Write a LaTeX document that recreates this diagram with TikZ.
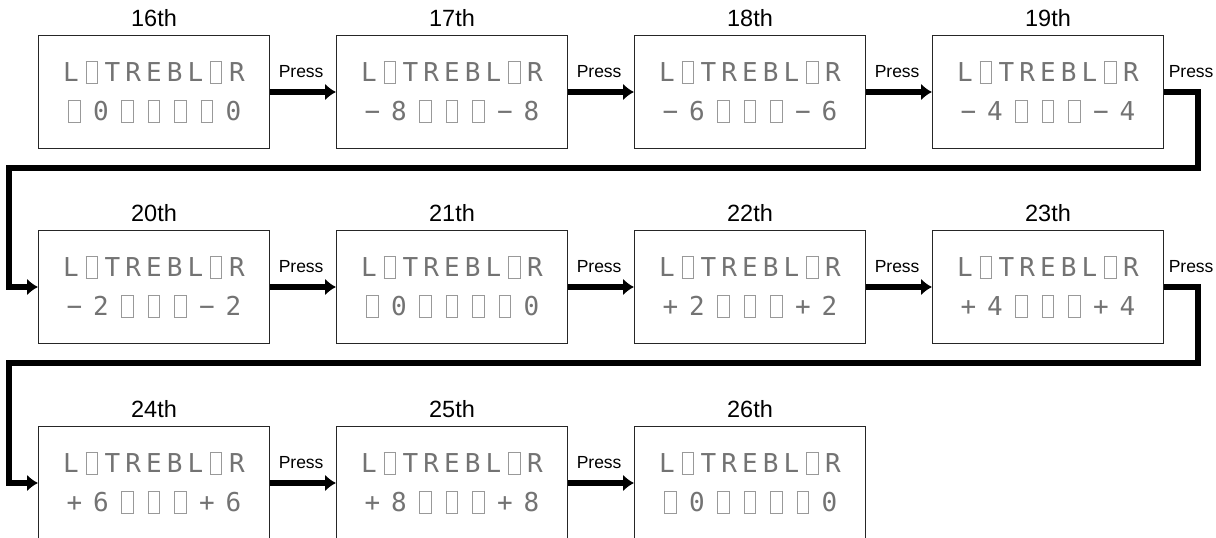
\documentclass[tikz,border=0pt]{standalone}
\usepackage{fontspec}
\setmainfont{Liberation Sans}
\newfontfamily\dotfont{DejaVu Sans Mono}
\usetikzlibrary{arrows.meta,positioning}

% empty cell of the display
\newcommand\sq{\raisebox{-1.5pt}{\color{black!40}\setlength\fboxsep{0pt}\setlength\fboxrule{1pt}\fbox{\rule{0pt}{21pt}\hspace{10.5pt}}}}
% one display row, fixed cell width
\newcommand\dline[2]{\foreach \dch in {#2}{\makebox[#1]{\dch}}}
\newcommand\lcdtop{\dline{20.75pt}{L,\sq,T,R,E,B,L,\sq,R}}

\tikzset{
  panel/.style={draw=black!85, line width=1pt, minimum width=231pt, minimum height=113pt, inner sep=0pt, anchor=north west},
  lcd/.style={align=center, text=black!55, inner sep=0pt, font=\dotfont\fontsize{26}{38.5}\selectfont},
  count/.style={inner sep=0pt, font=\fontsize{23.5}{28}\selectfont},
  press/.style={-{Latex[length=11pt,width=17pt]}, line width=5.5pt},
  presslabel/.style={inner sep=0pt, anchor=south west, font=\fontsize{17.5}{20}\selectfont}
}

\begin{document}
\begin{tikzpicture}[x=1pt, y=-1pt]
    \useasboundingbox (0,0) rectangle (1216,538);

    % panels, first row
    \node[panel] (p16) at (38,35) {};
    \node[panel] (p17) at (336,35) {};
    \node[panel] (p18) at (634,35) {};
    \node[panel] (p19) at (932,35) {};

    % panels, second row
    \node[panel] (p20) at (38,230) {};
    \node[panel] (p21) at (336,230) {};
    \node[panel] (p22) at (634,230) {};
    \node[panel] (p23) at (932,230) {};

    % panels, third row
    \node[panel] (p24) at (38,426) {};
    \node[panel] (p25) at (336,426) {};
    \node[panel] (p26) at (634,426) {};

    % counts
    \node[count, above=8pt of p16.north] (l16) {16th};
    \node[count, above=8pt of p17.north] (l17) {17th};
    \node[count, above=8pt of p18.north] (l18) {18th};
    \node[count, above=8pt of p19.north] (l19) {19th};
    \node[count, above=8pt of p20.north] (l20) {20th};
    \node[count, above=8pt of p21.north] (l21) {21th};
    \node[count, above=8pt of p22.north] (l22) {22th};
    \node[count, above=8pt of p23.north] (l23) {23th};
    \node[count, above=8pt of p24.north] (l24) {24th};
    \node[count, above=8pt of p25.north] (l25) {25th};
    \node[count, above=8pt of p26.north] (l26) {26th};

    % displays
    \node[lcd] (d16) at (p16.center) {\lcdtop\\\dline{26.5pt}{\sq,0,\sq,\sq,\sq,\sq,0}};
    \node[lcd] (d17) at (p17.center) {\lcdtop\\\dline{26.5pt}{−,8,\sq,\sq,\sq,−,8}};
    \node[lcd] (d18) at (p18.center) {\lcdtop\\\dline{26.5pt}{−,6,\sq,\sq,\sq,−,6}};
    \node[lcd] (d19) at (p19.center) {\lcdtop\\\dline{26.5pt}{−,4,\sq,\sq,\sq,−,4}};
    \node[lcd] (d20) at (p20.center) {\lcdtop\\\dline{26.5pt}{−,2,\sq,\sq,\sq,−,2}};
    \node[lcd] (d21) at (p21.center) {\lcdtop\\\dline{26.5pt}{\sq,0,\sq,\sq,\sq,\sq,0}};
    \node[lcd] (d22) at (p22.center) {\lcdtop\\\dline{26.5pt}{+,2,\sq,\sq,\sq,+,2}};
    \node[lcd] (d23) at (p23.center) {\lcdtop\\\dline{26.5pt}{+,4,\sq,\sq,\sq,+,4}};
    \node[lcd] (d24) at (p24.center) {\lcdtop\\\dline{26.5pt}{+,6,\sq,\sq,\sq,+,6}};
    \node[lcd] (d25) at (p25.center) {\lcdtop\\\dline{26.5pt}{+,8,\sq,\sq,\sq,+,8}};
    \node[lcd] (d26) at (p26.center) {\lcdtop\\\dline{26.5pt}{\sq,0,\sq,\sq,\sq,\sq,0}};

    % turns between rows
    \coordinate (w1) at (1198,168);
    \coordinate (w2) at (9,168);
    \coordinate (w3) at (1198,363);
    \coordinate (w4) at (9,363);

    % press arrows
    \draw[press] (p16.east) -- (p17.west) node[presslabel, pos=0, xshift=6pt, yshift=12pt] (t16) {Press};
    \draw[press] (p17.east) -- (p18.west) node[presslabel, pos=0, xshift=6pt, yshift=12pt] (t17) {Press};
    \draw[press] (p18.east) -- (p19.west) node[presslabel, pos=0, xshift=6pt, yshift=12pt] (t18) {Press};
    \draw[press] (p19.east) -| (w1) node[presslabel, pos=0, xshift=2pt, yshift=12pt] (t19) {Press} -- (w2) |- (p20.west);
    \draw[press] (p20.east) -- (p21.west) node[presslabel, pos=0, xshift=6pt, yshift=12pt] (t20) {Press};
    \draw[press] (p21.east) -- (p22.west) node[presslabel, pos=0, xshift=6pt, yshift=12pt] (t21) {Press};
    \draw[press] (p22.east) -- (p23.west) node[presslabel, pos=0, xshift=6pt, yshift=12pt] (t22) {Press};
    \draw[press] (p23.east) -| (w3) node[presslabel, pos=0, xshift=2pt, yshift=12pt] (t23) {Press} -- (w4) |- (p24.west);
    \draw[press] (p24.east) -- (p25.west) node[presslabel, pos=0, xshift=6pt, yshift=12pt] (t24) {Press};
    \draw[press] (p25.east) -- (p26.west) node[presslabel, pos=0, xshift=6pt, yshift=12pt] (t25) {Press};
\end{tikzpicture}
\end{document}
